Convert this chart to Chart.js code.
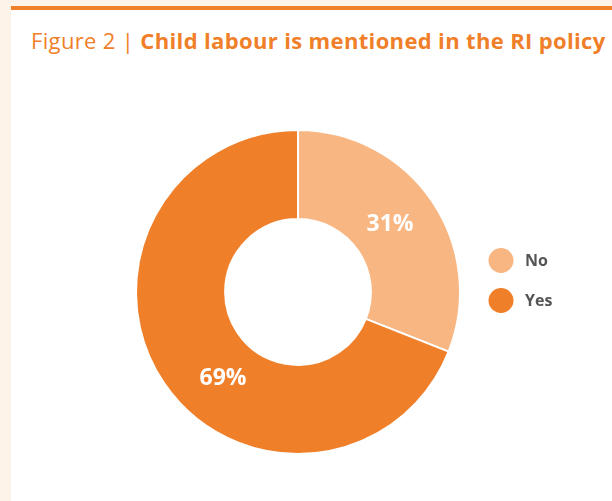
<!DOCTYPE html>
<html>
<head>
<meta charset="utf-8">
<script src="https://cdn.jsdelivr.net/npm/chart.js@4/dist/chart.umd.min.js"></script>
<style>
  html, body { margin: 0; padding: 0; }
  body { width: 612px; height: 501px; position: relative; overflow: hidden; background: #ffffff; font-family: "Open Sans", sans-serif; }
  #sideband { position: absolute; left: 0; top: 0; width: 11px; height: 501px; background: #fef3e9; }
  #topband { position: absolute; left: 0; top: 0; width: 612px; height: 6px; background: #fef3e9; }
  #rule { position: absolute; left: 11px; top: 6px; width: 601px; height: 4px; background: #f07f2a; }
  #title { position: absolute; left: 31px; top: 25px; white-space: nowrap; color: #f07f2a; font-size: 22px; line-height: 30px; letter-spacing: 0.35px; }
  #title b { font-weight: 700; }
  #wrap { position: absolute; left: 0; top: 0; width: 612px; height: 501px; }
</style>
</head>
<body>
<div id="sideband"></div>
<div id="topband"></div>
<div id="rule"></div>
<div id="title">Figure 2 | <b>Child labour is mentioned in the RI policy</b></div>
<div id="wrap"><canvas id="chart"></canvas></div>
<script>
// Share of RI policies that mention child labour
const categories = ['No', 'Yes'];
const shares = [31, 69];
const valueLabels = ['31%', '69%'];
const sliceColors = ['#f8b682', '#f07f2a'];
// where along each slice (0 = start, 1 = end) its value label sits
const labelAngleFraction = [0.48, 0.44];

const sliceLabels = {
  id: 'sliceLabels',
  afterDatasetsDraw(chart) {
    const ctx = chart.ctx;
    const meta = chart.getDatasetMeta(0);
    ctx.save();
    ctx.fillStyle = '#ffffff';
    ctx.font = '700 23px "Open Sans", sans-serif';
    ctx.textAlign = 'center';
    ctx.textBaseline = 'middle';
    meta.data.forEach((arc, i) => {
      const p = arc.getProps(['x', 'y', 'startAngle', 'endAngle', 'innerRadius', 'outerRadius'], true);
      const a = p.startAngle + (p.endAngle - p.startAngle) * labelAngleFraction[i];
      const r = (p.innerRadius + p.outerRadius) / 2 - 3;
      ctx.fillText(valueLabels[i], p.x + Math.cos(a) * r, p.y + Math.sin(a) * r);
    });
    ctx.restore();
  }
};

const sideLegend = {
  id: 'sideLegend',
  afterDraw(chart) {
    const ctx = chart.ctx;
    const ds = chart.data.datasets[0];
    const x0 = chart.chartArea.right + 40;
    const y0 = 260.5;
    const gap = 40;
    ctx.save();
    ctx.font = '700 16px "Open Sans", sans-serif';
    ctx.textBaseline = 'middle';
    ctx.textAlign = 'left';
    chart.data.labels.forEach((lab, i) => {
      const y = y0 + i * gap;
      ctx.beginPath();
      ctx.fillStyle = ds.backgroundColor[i];
      ctx.arc(x0, y, 12.5, 0, Math.PI * 2);
      ctx.fill();
      ctx.fillStyle = '#555555';
      ctx.fillText(lab, x0 + 24, y + 1);
    });
    ctx.restore();
  }
};

new Chart(document.getElementById('chart'), {
  type: 'doughnut',
  data: {
    labels: categories,
    datasets: [{
      data: shares,
      backgroundColor: sliceColors,
      borderColor: '#ffffff',
      borderWidth: 2,
      hoverOffset: 0
    }]
  },
  options: {
    responsive: true,
    maintainAspectRatio: false,
    animation: false,
    cutout: '45%',
    layout: { padding: { top: 129, bottom: 46, left: 135, right: 151 } },
    plugins: {
      legend: { display: false },
      tooltip: { enabled: false }
    }
  },
  plugins: [sliceLabels, sideLegend]
});
</script>
</body>
</html>
